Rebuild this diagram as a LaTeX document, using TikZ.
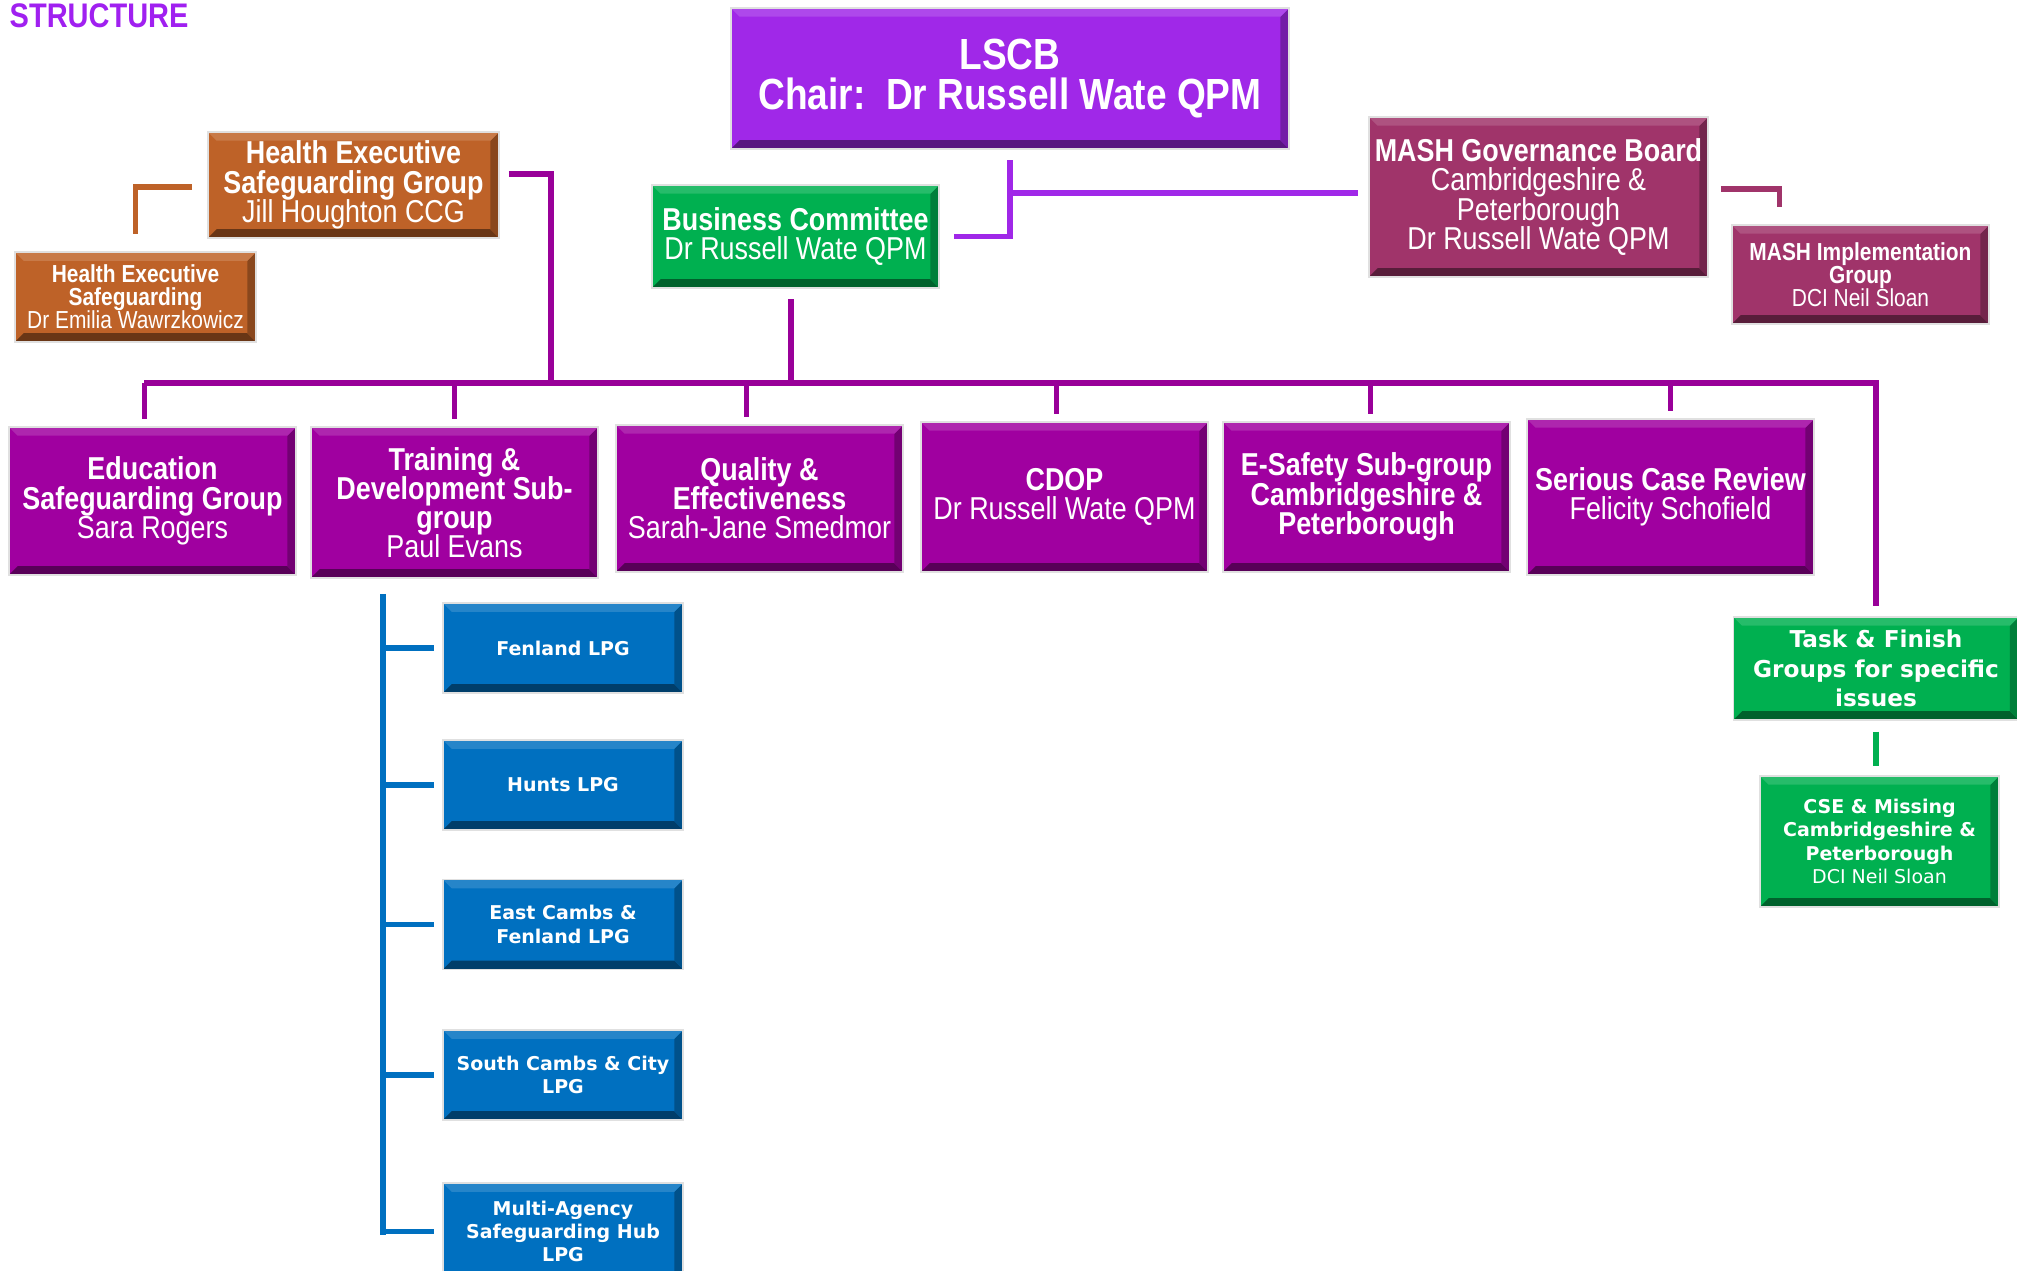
\documentclass[tikz,border=0pt]{standalone}
\usepackage{fontspec}
\setmainfont{Liberation Sans}
\newfontfamily\narrowsf[FakeStretch=0.85]{Liberation Sans}
\newfontfamily\widesf{DejaVu Sans}
\newcommand\tightlines{\lineskiplimit=-20pt\relax}

\definecolor{lscbc}{RGB}{160,40,232}
\definecolor{busc}{RGB}{0,176,80}
\definecolor{mashc}{RGB}{160,52,106}
\definecolor{healthc}{RGB}{190,98,40}
\definecolor{subc}{RGB}{160,0,160}
\definecolor{lpgc}{RGB}{0,112,192}
\definecolor{barc}{RGB}{153,0,153}
\definecolor{titlec}{RGB}{160,32,240}

\tikzset{
  box/.style={rectangle, draw=black!12, line width=0.4pt, fill=#1, text=white,
    align=center, inner sep=1pt,
    path picture={
      \fill[#1!55!black] (path picture bounding box.south west) -- (path picture bounding box.south east)
        -- ([shift={(-2.5pt,2.5pt)}]path picture bounding box.south east)
        -- ([shift={(2.5pt,2.5pt)}]path picture bounding box.south west) -- cycle;
      \fill[#1!72!black] (path picture bounding box.south east) -- (path picture bounding box.north east)
        -- ([shift={(-2.5pt,-2.5pt)}]path picture bounding box.north east)
        -- ([shift={(-2.5pt,2.5pt)}]path picture bounding box.south east) -- cycle;
      \fill[#1!85!white] (path picture bounding box.north west) -- (path picture bounding box.north east)
        -- ([shift={(-2.5pt,-2.5pt)}]path picture bounding box.north east)
        -- ([shift={(2.5pt,-2.5pt)}]path picture bounding box.north west) -- cycle;
    }},
  link/.style={line width=1.5pt, draw=#1},
  fbig/.style={font=\narrowsf\bfseries\fontsize{12.4}{11.4}\selectfont\tightlines},
  fmid/.style={font=\narrowsf\bfseries\fontsize{9}{8.3}\selectfont\tightlines},
  fsmall/.style={font=\narrowsf\bfseries\fontsize{7}{6.6}\selectfont\tightlines},
  fwide/.style={font=\widesf\bfseries\fontsize{6.6}{8.3}\selectfont\tightlines},
  flpg/.style={font=\widesf\bfseries\fontsize{5.4}{6.6}\selectfont\tightlines},
  subbox/.style={box=subc, minimum width=2.87cm, fmid},
  lpgbox/.style={box=lpgc, minimum width=2.4cm, minimum height=0.9cm, flpg}
}

\begin{document}
\begin{tikzpicture}[x=0.01cm,y=-0.01cm]
\useasboundingbox (0,0) rectangle (2017,1271);

\node[anchor=west, inner sep=0pt, text=titlec, font=\narrowsf\bfseries\fontsize{9.7}{10}\selectfont] (title) at (9,16) {STRUCTURE};

\node[box=lscbc, minimum width=5.58cm, minimum height=1.41cm, fbig] (lscb) at (1010,78.5) {LSCB\\Chair:\ \ Dr Russell Wate QPM};
\node[box=busc, minimum width=2.87cm, minimum height=1.03cm, fmid] (bus) at (795.5,236.5) {Business Committee\\\mdseries Dr Russell Wate QPM};
\node[box=mashc, minimum width=3.39cm, minimum height=1.6cm, fmid] (mashgov) at (1538.5,197) {MASH Governance Board\\\mdseries Cambridgeshire \&\\\mdseries Peterborough\\\mdseries Dr Russell Wate QPM};
\node[box=mashc, minimum width=2.57cm, minimum height=0.99cm, fsmall] (mashimp) at (1860.5,274.5) {MASH Implementation\\Group\\\mdseries DCI Neil Sloan};
\node[box=healthc, minimum width=2.91cm, minimum height=1.06cm, fmid] (hesg) at (353.5,185) {Health Executive\\Safeguarding Group\\\mdseries Jill Houghton CCG};
\node[box=healthc, minimum width=2.41cm, minimum height=0.9cm, fsmall] (hes) at (135.5,297) {Health Executive\\Safeguarding\\\mdseries Dr Emilia Wawrzkowicz};

\node[subbox, minimum height=1.48cm] (edu) at (152.5,501) {Education\\Safeguarding Group\\\mdseries Sara Rogers};
\node[subbox, minimum height=1.51cm] (train) at (454.5,502.5) {Training \&\\Development Sub-\\group\\\mdseries Paul Evans};
\node[subbox, minimum height=1.47cm] (qual) at (759.5,498.5) {Quality \&\\Effectiveness\\\mdseries Sarah-Jane Smedmor};
\node[subbox, minimum height=1.5cm] (cdop) at (1064.5,497) {CDOP\\\mdseries Dr Russell Wate QPM};
\node[subbox, minimum height=1.5cm] (esafe) at (1366.5,497) {E-Safety Sub-group\\Cambridgeshire \&\\Peterborough};
\node[subbox, minimum height=1.56cm] (scr) at (1670.5,497) {Serious Case Review\\\mdseries Felicity Schofield};

\node[box=busc, minimum width=2.85cm, minimum height=1.03cm, fwide] (task) at (1876,668.5) {Task \& Finish\\Groups for specific\\issues};
\node[box=busc, minimum width=2.39cm, minimum height=1.31cm, flpg] (cse) at (1879.5,841.5) {CSE \& Missing\\Cambridgeshire \&\\Peterborough\\\mdseries DCI Neil Sloan};

\node[lpgbox] (fen) at (563,648) {Fenland LPG};
\node[lpgbox] (hunts) at (563,785) {Hunts LPG};
\node[lpgbox] (east) at (563,924.5) {East Cambs \&\\Fenland LPG};
\node[lpgbox] (south) at (563,1075) {South Cambs \& City\\LPG};
\node[lpgbox, minimum height=0.97cm] (hub) at (563,1231.5) {Multi-Agency\\Safeguarding Hub\\LPG};

\coordinate (barL) at (144,383);
\coordinate (barR) at (task.north |- 0,383);
\coordinate (hj) at (551,383);
\coordinate (lpgtop) at (383,594);
\coordinate (lpgbot) at (383,1235);

\draw[link=lscbc] ([yshift=-3pt]lscb.south) -- (lscb.south |- bus.east) -- ([xshift=4pt]bus.east);
\draw[link=lscbc] ([yshift=0.04cm]lscb.south |- mashgov.west) -- ([xshift=-3pt,yshift=0.04cm]mashgov.west);
\draw[link=mashc] ([xshift=0.12cm,yshift=0.08cm]mashgov.east) -| ([xshift=0.48cm,yshift=5pt]mashimp.north west);
\draw[link=healthc] ([xshift=-0.15cm,yshift=-0.02cm]hesg.west) -| ([yshift=0.17cm]hes.north);
\draw[link=barc] ([xshift=0.09cm,yshift=0.11cm]hesg.east) -| (hj);
\draw[link=barc] ([xshift=-0.045cm,yshift=-3pt]bus.south) -- ([xshift=-0.045cm]bus.south |- barL);
\draw[link=barc] (barL) -- (barR) -- ([yshift=3pt]task.north);
\foreach \b/\dx in {edu/-0.08,train/0,qual/-0.13,cdop/-0.08,esafe/0.04,scr/0}
  \draw[link=barc] ([xshift=\dx cm]\b.north |- barL) -- ([xshift=\dx cm,yshift=2pt]\b.north);
\draw[link=busc] ([yshift=-0.11cm]task.south) -- ([yshift=0.09cm]task.south |- cse.north);
\draw[link=lpgc] (lpgtop) -- (lpgbot);
\foreach \b in {fen,hunts,east,south,hub}
  \draw[link=lpgc] (lpgtop |- \b.west) -- ([xshift=-0.08cm]\b.west);
\end{tikzpicture}
\end{document}
